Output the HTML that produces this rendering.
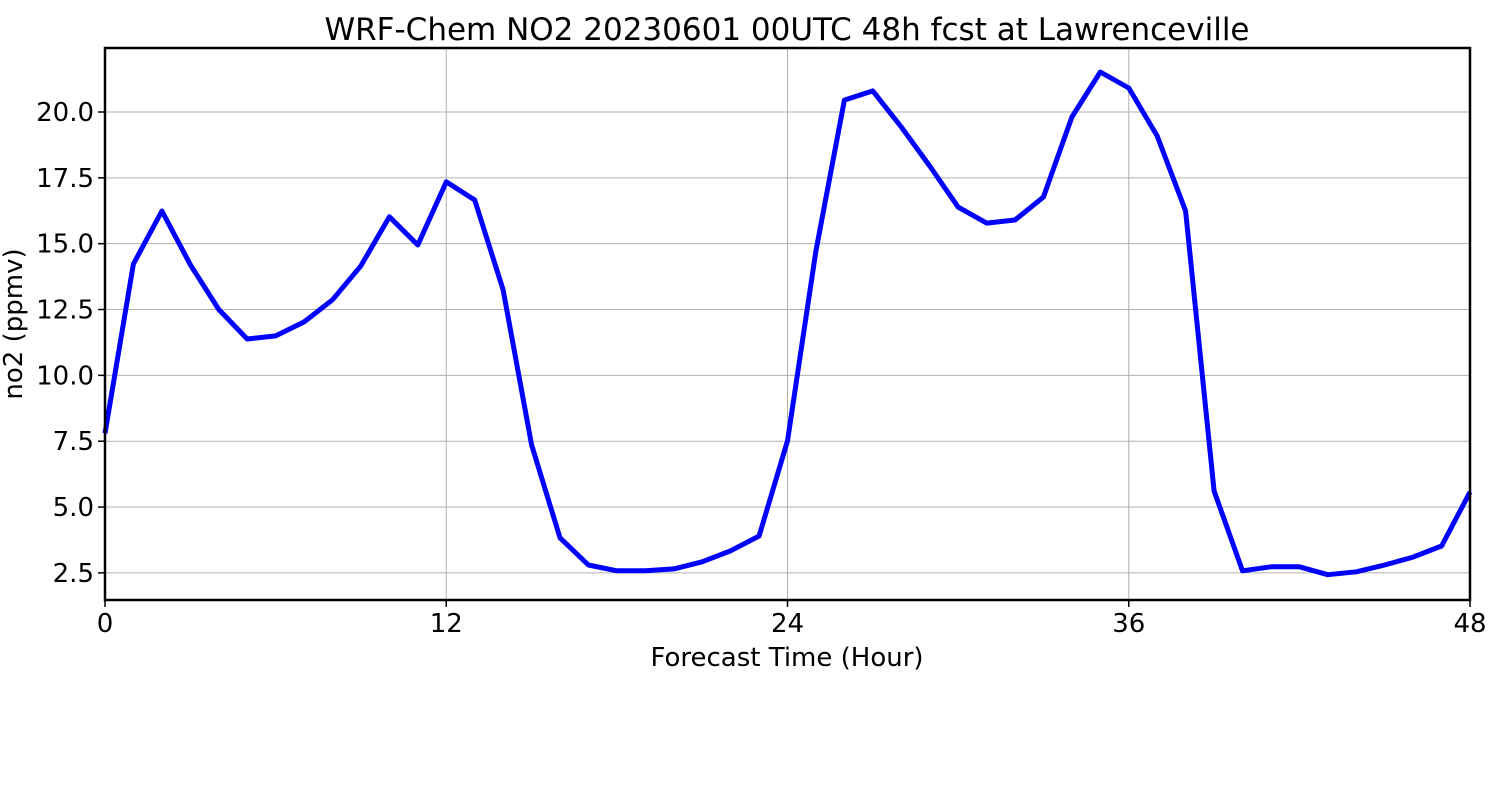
<!DOCTYPE html>
<html><head><meta charset="utf-8"><style>
html,body{margin:0;padding:0;background:#fff;}
svg{display:block;font-family:"DejaVu Sans","Liberation Sans",sans-serif;}
</style></head><body>
<svg id="chart" width="1500" height="800">
<rect width="1500" height="800" fill="#fff"/>
<text x="787" y="40" font-size="31" text-anchor="middle">WRF-Chem NO2  20230601 00UTC 48h fcst at Lawrenceville</text>
<g id="grid"></g>
<g id="ticks"></g>
<path id="line" fill="none" stroke="#0000ff" stroke-width="5" stroke-linejoin="round"/>
<rect x="105" y="48" width="1365" height="552" fill="none" stroke="#000" stroke-width="2.5"/>
<text x="787" y="666" font-size="26" text-anchor="middle">Forecast Time (Hour)</text>
<text transform="translate(22,324) rotate(-90)" font-size="26" text-anchor="middle">no2  (ppmv)</text>
</svg>
<script>
const hours = [0,1,2,3,4,5,6,7,8,9,10,11,12,13,14,15,16,17,18,19,20,21,22,23,24,25,26,27,28,29,30,31,32,33,34,35,36,37,38,39,40,41,42,43,44,45,46,47,48];
const no2 = [7.8,14.23,16.24,14.2,12.5,11.38,11.5,12.03,12.87,14.16,16.02,14.95,17.35,16.66,13.25,7.36,3.83,2.8,2.58,2.58,2.65,2.92,3.34,3.9,7.51,14.72,20.45,20.8,19.43,17.95,16.39,15.78,15.9,16.77,19.81,21.52,20.91,19.09,16.24,5.61,2.58,2.73,2.73,2.43,2.54,2.8,3.1,3.52,5.57];
const xTicks = [0,12,24,36,48];
const yTicks = [2.5,5.0,7.5,10.0,12.5,15.0,17.5,20.0];
const X0=105,X1=1470,Y0=600,Y1=48,XMIN=0,XMAX=48,YMIN=1.47,YMAX=22.43;
const xs=v=>X0+(v-XMIN)/(XMAX-XMIN)*(X1-X0);
const ys=v=>Y0-(v-YMIN)/(YMAX-YMIN)*(Y0-Y1);
const NS="http://www.w3.org/2000/svg";
const grid=document.getElementById('grid'), ticks=document.getElementById('ticks');
function mk(tag,attrs,parent){const e=document.createElementNS(NS,tag);for(const k in attrs)e.setAttribute(k,attrs[k]);parent.appendChild(e);return e;}
xTicks.forEach(t=>{
  const x=xs(t);
  const g=mk('line',{x1:x,x2:x,y1:Y1,y2:Y0,stroke:'#b0b0b0','stroke-width':1},grid);
  
  
  const tk=mk('line',{x1:x,x2:x,y1:Y0,y2:Y0+7,stroke:'#000','stroke-width':1.5},ticks);
  
  
  const tx=mk('text',{x:x,y:Y0+32,'font-size':26,'text-anchor':'middle'},ticks);
  tx.textContent=t;
  
  
});
yTicks.forEach(t=>{
  const y=ys(t);
  const g=mk('line',{x1:X0,x2:X1,y1:y,y2:y,stroke:'#b0b0b0','stroke-width':1},grid);
  
  
  const tk=mk('line',{x1:X0-7,x2:X0,y1:y,y2:y,stroke:'#000','stroke-width':1.5},ticks);
  
  
  const tx=mk('text',{x:X0-11,y:y+9,'font-size':26,'text-anchor':'end'},ticks);
  tx.textContent=t.toFixed(1);
  
  
});
document.getElementById('line').setAttribute('d',hours.map((h,i)=>(i?'L':'M')+xs(h).toFixed(1)+','+ys(no2[i]).toFixed(1)).join(''));
</script>
</body></html>
